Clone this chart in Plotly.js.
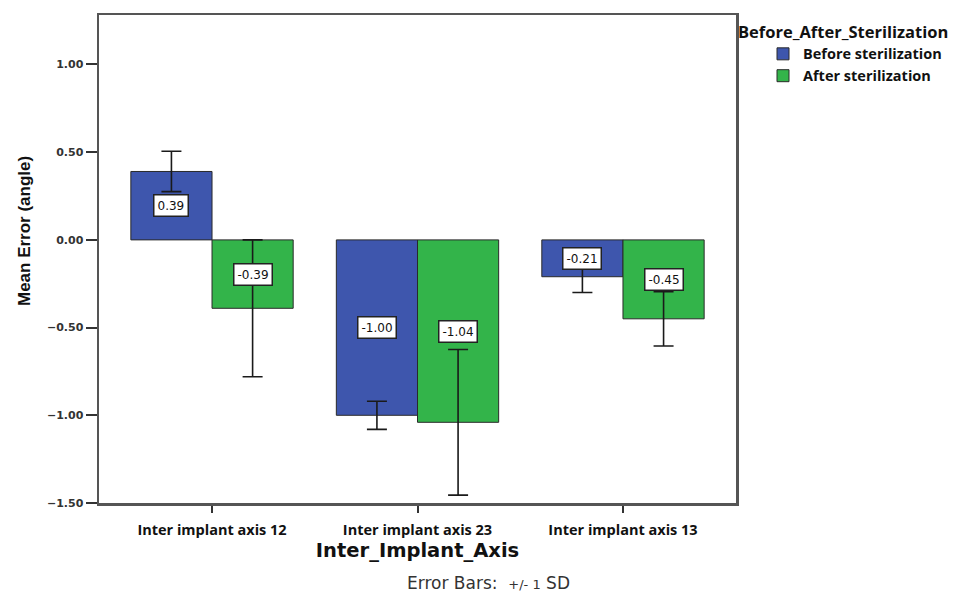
<!DOCTYPE html>
<html>
<head>
<meta charset="utf-8">
<script src="https://cdn.plot.ly/plotly-3.0.1.min.js"></script>
<style>html,body{margin:0;padding:0;background:#fff;}#chart{width:961px;height:594px;}</style>
</head>
<body>
<div id="chart"></div>
<script>
// ---- data ----
var categories = ["Inter implant axis 12", "Inter implant axis 23", "Inter implant axis 13"];
var seriesNames = ["Before sterilization", "After sterilization"];
var beforeMean = [0.39, -1.00, -0.21];
var afterMean = [-0.39, -1.04, -0.45];
var beforeSD = [0.115, 0.08, 0.09];
var afterSD = [0.39, 0.415, 0.155];
var yTickVals = [-1.5, -1.0, -0.5, 0.0, 0.5, 1.0];
var legendTitle = "Before_After_Sterilization";
var xTitle = "Inter_Implant_Axis";
var yTitle = "Mean Error (angle)";
var footnote = "Error Bars:  <span style='font-size:13px'>+/- 1</span> SD";

// ---- styling ----
var blue = "#3E56AD";
var green = "#33B44A";
var bargap = 0.21;
var barHalf = (1 - bargap) / 4; // center offset of each bar in a 2-bar group

var errStyle = function(arr) {
  return {type: "data", array: arr, visible: true, color: "#1a1a1a", thickness: 1.6, width: 10};
};

var traces = [
  {type: "bar", name: seriesNames[0], x: categories, y: beforeMean,
   marker: {color: blue, line: {color: "#2a2a2a", width: 1}},
   error_y: errStyle(beforeSD), hoverinfo: "y"},
  {type: "bar", name: seriesNames[1], x: categories, y: afterMean,
   marker: {color: green, line: {color: "#2a2a2a", width: 1}},
   error_y: errStyle(afterSD), hoverinfo: "y"}
];

var annotations = [];
function addLabels(vals, offset) {
  vals.forEach(function(v, i) {
    annotations.push({
      x: i + offset, y: v / 2, xref: "x", yref: "y",
      text: v.toFixed(2), showarrow: false,
      font: {family: "DejaVu Sans", size: 12, color: "#111"},
      bgcolor: "#ffffff", bordercolor: "#222", borderwidth: 1.5, borderpad: 3
    });
  });
}
addLabels(beforeMean, -barHalf);
addLabels(afterMean, barHalf);

annotations.push({
  xref: "paper", yref: "paper", x: -0.118, y: 0.557, textangle: -90,
  text: yTitle, showarrow: false, xanchor: "center", yanchor: "middle",
  font: {family: "Liberation Sans", size: 17, color: "#111", weight: "bold"}
});
annotations.push({
  xref: "paper", yref: "paper", x: 0.611, y: -0.163, yanchor: "middle", xanchor: "center",
  text: footnote, showarrow: false,
  font: {family: "DejaVu Sans", size: 17, color: "#333"}
});

var layout = {
  width: 961, height: 594,
  margin: {l: 99, r: 225, t: 15, b: 91, autoexpand: false},
  paper_bgcolor: "#ffffff", plot_bgcolor: "#ffffff",
  barmode: "group", bargap: bargap, bargroupgap: 0,
  showlegend: true,
  legend: {
    x: 1.0, xanchor: "left", y: 0.997, yanchor: "top",
    title: {text: legendTitle, font: {family: "Open Sans", size: 16.5, color: "#111", weight: "bold"}},
    font: {family: "Open Sans", size: 14.5, color: "#111", weight: "bold"},
    indentation: 27, traceorder: "normal", bgcolor: "rgba(0,0,0,0)"
  },
  xaxis: {
    type: "category", range: [-0.55, 2.55],
    showline: true, linecolor: "#555", linewidth: 2.5, mirror: true,
    ticks: "outside", ticklen: 7, tickwidth: 2, tickcolor: "#333",
    ticklabelstandoff: 5,
    tickfont: {family: "Open Sans", size: 14.5, color: "#111", weight: "bold"},
    showgrid: false, zeroline: false,
    title: {text: xTitle, standoff: 2, font: {family: "DejaVu Sans", size: 19.5, color: "#111", weight: "bold"}}
  },
  yaxis: {
    range: [-1.5, 1.282], tickvals: yTickVals, tickformat: ".2f",
    showline: true, linecolor: "#555", linewidth: 2.5, mirror: true,
    ticks: "outside", ticklen: 11, tickwidth: 2, tickcolor: "#333",
    tickfont: {family: "DejaVu Sans", size: 11, color: "#333", weight: "bold"},
    showgrid: false, zeroline: false
  },
  annotations: annotations
};

Plotly.newPlot("chart", traces, layout, {displayModeBar: false, staticPlot: true});
</script>
</body>
</html>
